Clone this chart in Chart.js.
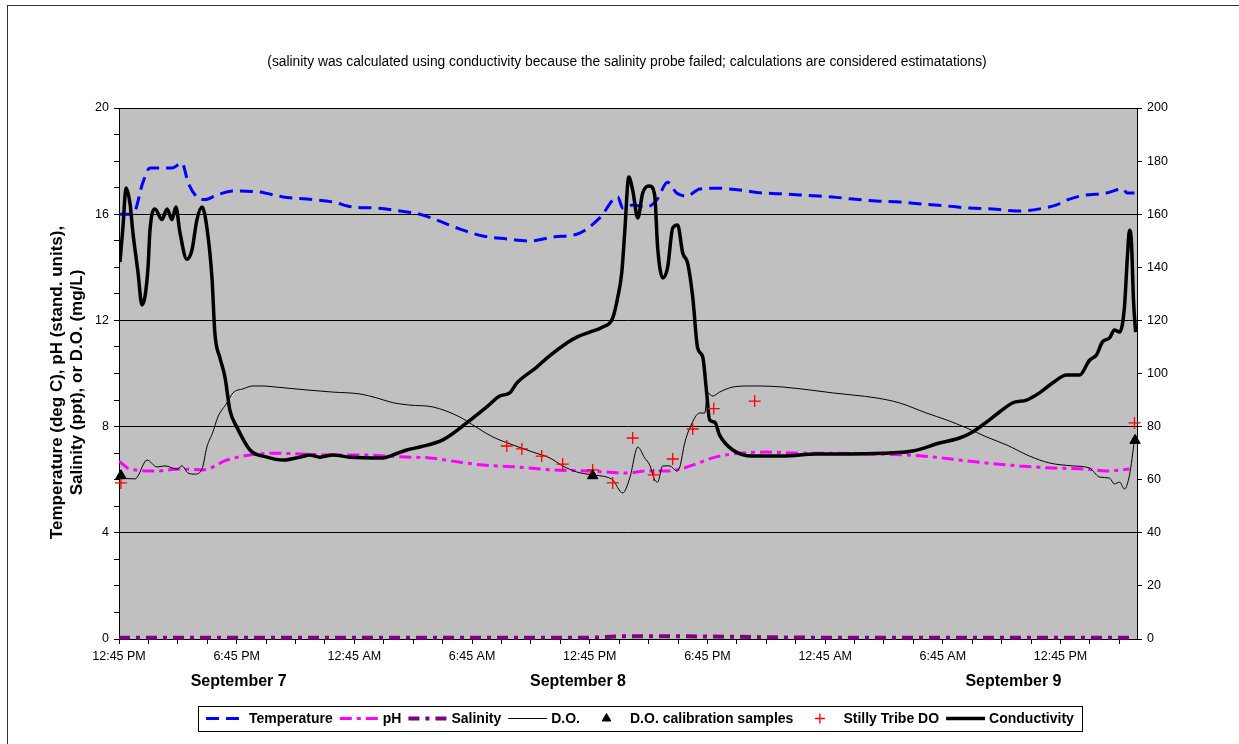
<!DOCTYPE html>
<html>
<head>
<meta charset="utf-8">
<title>Water quality - September 7 to 9</title>
<script src="https://cdn.jsdelivr.net/npm/chart.js@4.4.1/dist/chart.umd.min.js"></script>
<style>
  html, body { margin: 0; padding: 0; background: #fff; }
  #wrap { width: 1239px; height: 744px; position: relative; }
</style>
</head>
<body>
<div id="wrap"><canvas id="waterChart"></canvas></div>
<script>
const FONT = 'Arial, "Liberation Sans", sans-serif';

// x axis is hours after 12:45 PM, September 7
const timeLabels = ['12:45 PM', '6:45 PM', '12:45 AM', '6:45 AM', '12:45 PM', '6:45 PM', '12:45 AM', '6:45 AM', '12:45 PM'];
const dayLabels = ['September 7', 'September 8', 'September 9'];
const dayHours = [6.1, 23.4, 45.6];
const subtitle = '(salinity was calculated using conductivity because the salinity probe failed; calculations are considered estimatations)';
const yTitle = ['Temperature (deg C), pH (stand. units),', 'Salinity (ppt), or D.O. (mg/L)'];

const tempHours = [0, 0.71, 1.22, 1.58, 2.70, 3.21, 3.52, 3.97, 4.38, 4.99, 5.81, 7.03, 8.36, 9.58, 10.90, 11.92, 13.15, 14.32, 15.34, 16.20, 17.38, 18.55, 19.77, 20.94, 22.11, 23.49, 24.51, 25.43, 25.68, 26.19, 26.90, 27.41, 27.97, 28.43, 28.94, 29.61, 30.47, 31.64, 32.82, 34.04, 35.21, 36.38, 37.40, 38.62, 39.80, 40.97, 42.19, 43.36, 44.54, 45.76, 46.93, 47.80, 48.31, 49.12, 50.34, 51.16, 51.41, 51.77];
const tempValues = [16.0, 16.0, 17.2, 17.74, 17.74, 17.93, 17.2, 16.65, 16.55, 16.72, 16.87, 16.85, 16.65, 16.57, 16.46, 16.27, 16.23, 16.12, 16.0, 15.78, 15.44, 15.18, 15.07, 14.99, 15.14, 15.29, 15.86, 16.65, 16.23, 16.35, 16.27, 16.53, 17.2, 16.8, 16.68, 16.95, 16.98, 16.91, 16.8, 16.76, 16.7, 16.65, 16.57, 16.5, 16.46, 16.38, 16.31, 16.23, 16.2, 16.12, 16.2, 16.35, 16.53, 16.7, 16.8, 16.95, 16.8, 16.8];

const phHours = [0, 0.56, 1.94, 3.11, 4.28, 5.50, 6.68, 7.85, 9.22, 10.90, 12.64, 14.32, 15.85, 17.02, 18.55, 20.28, 22.11, 23.85, 24.87, 25.89, 26.90, 27.92, 28.59, 29.25, 30.27, 31.29, 33.02, 34.70, 36.38, 38.11, 40.15, 41.48, 42.85, 44.23, 45.91, 47.59, 49.32, 50.34, 51.52];
const phValues = [6.7, 6.4, 6.33, 6.4, 6.37, 6.74, 6.93, 7.0, 6.97, 6.93, 6.93, 6.86, 6.82, 6.7, 6.55, 6.48, 6.37, 6.33, 6.29, 6.25, 6.33, 6.33, 6.4, 6.55, 6.82, 6.97, 7.04, 7.0, 7.0, 6.97, 6.93, 6.86, 6.74, 6.63, 6.52, 6.44, 6.4, 6.33, 6.4];

const salHours = [0, 12, 24, 25.5, 28.5, 36, 51.8];
const salValues = [0.05, 0.05, 0.05, 0.1, 0.1, 0.05, 0.05];

const doHours = [0, 0.82, 1.43, 1.94, 2.34, 2.96, 3.21, 3.52, 3.87, 4.23, 4.48, 4.79, 5.04, 5.50, 5.81, 6.32, 6.83, 7.34, 7.85, 8.56, 9.58, 10.90, 12.28, 13.15, 13.96, 14.83, 16.00, 17.38, 18.04, 19.06, 20.08, 21.10, 21.96, 22.62, 23.34, 24.15, 24.87, 25.17, 25.68, 26.04, 26.45, 26.80, 27.06, 27.31, 27.46, 27.72, 28.08, 28.43, 28.59, 28.84, 29.10, 29.61, 29.86, 30.01, 30.27, 30.62, 31.29, 32.15, 32.66, 33.83, 35.21, 36.38, 37.40, 38.62, 39.80, 41.17, 42.19, 43.21, 44.23, 45.25, 46.42, 47.44, 48.61, 49.48, 49.99, 50.50, 50.75, 51.01, 51.26, 51.52, 51.77];
const doValues = [6.06, 6.03, 6.74, 6.48, 6.52, 6.4, 6.52, 6.25, 6.21, 6.4, 7.23, 7.8, 8.36, 8.89, 9.27, 9.42, 9.53, 9.53, 9.5, 9.45, 9.38, 9.3, 9.23, 9.08, 8.9, 8.81, 8.74, 8.36, 8.06, 7.61, 7.31, 7.04, 6.82, 6.52, 6.29, 6.18, 6.1, 5.99, 5.5, 6.06, 7.23, 6.82, 6.55, 5.99, 5.91, 6.52, 6.52, 6.33, 6.48, 7.38, 7.95, 8.51, 8.51, 9.27, 9.15, 9.3, 9.49, 9.53, 9.53, 9.49, 9.38, 9.27, 9.19, 9.08, 8.89, 8.51, 8.25, 7.95, 7.61, 7.31, 6.89, 6.63, 6.52, 6.44, 6.1, 6.06, 5.84, 5.91, 5.65, 6.18, 7.5];

const calHours = [0.1, 24.15, 51.8];
const calValues = [6.15, 6.15, 7.48];

const stillyHours = [0.1, 19.77, 20.54, 21.55, 22.62, 24.15, 25.17, 26.19, 27.26, 28.23, 29.25, 30.32, 32.41, 51.77];
const stillyValues = [5.88, 7.27, 7.16, 6.89, 6.59, 6.37, 5.88, 7.57, 6.18, 6.78, 7.91, 8.68, 8.96, 8.14];

const condHours = [0.05, 0.20, 0.36, 0.56, 0.71, 0.97, 1.17, 1.32, 1.48, 1.58, 1.83, 2.19, 2.45, 2.70, 2.90, 3.11, 3.46, 3.72, 3.97, 4.23, 4.48, 4.74, 4.89, 5.15, 5.40, 5.66, 6.01, 6.68, 7.54, 8.36, 9.22, 9.73, 10.24, 10.90, 11.77, 13.45, 13.96, 14.68, 15.34, 16.51, 17.73, 18.75, 19.41, 19.92, 20.28, 21.30, 21.81, 22.83, 23.34, 24.00, 24.66, 25.17, 25.43, 25.63, 25.78, 25.99, 26.19, 26.45, 26.70, 27.06, 27.31, 27.46, 27.72, 27.97, 28.23, 28.48, 28.74, 28.99, 29.25, 29.50, 29.76, 29.96, 30.11, 30.37, 30.62, 31.29, 32.31, 33.83, 35.57, 37.25, 38.93, 40.46, 41.83, 42.85, 43.52, 44.23, 44.89, 45.55, 46.27, 46.93, 47.59, 48.31, 48.97, 49.48, 49.83, 50.14, 50.50, 50.75, 51.01, 51.26, 51.41, 51.52, 51.62, 51.72, 51.83];
const condValues = [142, 155, 169.9, 164, 153, 138, 125.8, 128.8, 140, 154, 162, 158, 162, 158, 162.7, 153, 143, 146.5, 157.8, 162.7, 155, 136, 115, 105.8, 98.7, 86, 79.8, 71.2, 68.5, 67.4, 68.5, 69.3, 68.5, 69.3, 68.5, 68.2, 69.3, 71.2, 72.3, 75, 81.4, 87.4, 91.5, 92.7, 96.4, 102.4, 105.8, 111.5, 113.7, 115.6, 117.5, 120.9, 128.8, 137.9, 152.9, 174, 169, 158.6, 168, 170.6, 167.2, 147.6, 136, 140, 154.8, 155.9, 145.4, 141.6, 128.8, 109.6, 106.2, 92.7, 82.5, 81.7, 76.8, 71.2, 68.9, 68.9, 69.7, 69.7, 70, 70.8, 73.8, 75.7, 78, 81.7, 85.5, 88.9, 90, 92.7, 96.4, 99.4, 99.4, 105, 107, 111.9, 113.4, 116.4, 115.6, 125, 143.9, 154, 149, 127.7, 115.6];

const pairs = (xs, ys) => xs.map((x, i) => ({ x: x, y: ys[i] }));

const lineBase = { pointRadius: 0, fill: false, cubicInterpolationMode: 'monotone' };

// gray plot, frames, and the texts Excel put around the chart
const decorations = {
  id: 'decorations',
  beforeDraw(chart) {
    const { ctx, chartArea: a } = chart;
    ctx.save();
    ctx.fillStyle = '#fff';
    ctx.fillRect(0, 0, chart.width, chart.height);
    ctx.strokeStyle = '#333';
    ctx.lineWidth = 1;
    ctx.strokeRect(7.5, 5.5, chart.width + 20, chart.height + 20);
    ctx.fillStyle = '#C0C0C0';
    ctx.fillRect(a.left, a.top, a.right - a.left, a.bottom - a.top);
    ctx.restore();
  },
  beforeDatasetsDraw(chart) {
    const { ctx, chartArea: a } = chart;
    ctx.save();
    ctx.strokeStyle = '#000';
    ctx.lineWidth = 1;
    ctx.beginPath();
    ctx.moveTo(a.left, a.top + 0.5);
    ctx.lineTo(a.right, a.top + 0.5);
    ctx.stroke();
    ctx.restore();
  },
  afterDraw(chart) {
    const { ctx, chartArea: a } = chart;
    const xs = chart.scales.x;
    ctx.save();
    ctx.fillStyle = '#000';
    ctx.textAlign = 'center';
    ctx.textBaseline = 'middle';

    ctx.font = '13.8px ' + FONT;
    ctx.fillText(subtitle, (a.left + a.right) / 2 - 1, a.top - 46);

    ctx.font = 'bold 16px ' + FONT;
    dayLabels.forEach((d, i) => ctx.fillText(d, xs.getPixelForValue(dayHours[i]), a.bottom + 43));

    ctx.save();
    ctx.font = 'bold 17px ' + FONT;
    ctx.translate(57, (a.top + a.bottom) / 2 + 9);
    ctx.rotate(-Math.PI / 2);
    yTitle.forEach((line, i) => ctx.fillText(line, 0, i * 20));
    ctx.restore();

    // legend
    const order = [0, 1, 2, 3, 4, 5, 6];
    const sample = 39, gapText = 4, gapItem = 7, pad = 8;
    ctx.font = 'bold 14px ' + FONT;
    const items = order.map(i => {
      const ds = chart.data.datasets[i];
      return { ds: ds, w: ctx.measureText(ds.label).width };
    });
    let total = pad * 2 + gapItem * (items.length - 1);
    items.forEach(it => { total += sample + gapText + it.w; });
    const boxLeft = Math.round(640 - total / 2);
    const boxTop = a.bottom + 67;
    const cy = boxTop + 12.5;
    ctx.strokeStyle = '#000';
    ctx.lineWidth = 1;
    ctx.strokeRect(boxLeft + 0.5, boxTop + 0.5, Math.round(total), 25);
    let x = boxLeft + pad;
    items.forEach(it => {
      const ds = it.ds;
      ctx.save();
      if (ds.showLine === false) {
        ctx.setLineDash([]);
        ctx.fillStyle = ds.backgroundColor || ds.borderColor;
        ctx.strokeStyle = ds.borderColor;
        ctx.lineWidth = ds.borderWidth;
        Chart.helpers.drawPoint(ctx, { pointStyle: ds.pointStyle, radius: ds.pointRadius - 1, borderWidth: ds.borderWidth, rotation: 0 }, x + sample / 2, cy);
      } else {
        ctx.setLineDash(ds.borderDash || []);
        ctx.strokeStyle = ds.borderColor;
        ctx.lineWidth = ds.borderWidth;
        ctx.beginPath();
        ctx.moveTo(x, cy);
        ctx.lineTo(x + sample, cy);
        ctx.stroke();
      }
      ctx.restore();
      ctx.fillStyle = '#000';
      ctx.textAlign = 'left';
      ctx.fillText(ds.label, x + sample + gapText, cy + 1);
      x += sample + gapText + it.w + gapItem;
    });
    ctx.restore();
  }
};

new Chart(document.getElementById('waterChart'), {
  type: 'line',
  data: {
    datasets: [
      Object.assign({}, lineBase, { label: 'Temperature', data: pairs(tempHours, tempValues), borderColor: '#0000FF', borderWidth: 3, borderDash: [13, 7], yAxisID: 'y', order: 6 }),
      Object.assign({}, lineBase, { label: 'pH', data: pairs(phHours, phValues), borderColor: '#FF00FF', borderWidth: 3, borderDash: [12, 5, 4, 5], yAxisID: 'y', order: 5 }),
      Object.assign({}, lineBase, { label: 'Salinity', data: pairs(salHours, salValues), borderColor: '#800080', borderWidth: 4, borderDash: [11, 6, 4, 6], yAxisID: 'y', clip: false, order: 4 }),
      Object.assign({}, lineBase, { label: 'D.O.', data: pairs(doHours, doValues), borderColor: '#000', borderWidth: 1, yAxisID: 'y', order: 3 }),
      { label: 'D.O. calibration samples', data: pairs(calHours, calValues), showLine: false, pointStyle: 'triangle', pointRadius: 6, backgroundColor: '#000', borderColor: '#000', borderWidth: 1, yAxisID: 'y', clip: false, order: 0 },
      { label: 'Stilly Tribe DO', data: pairs(stillyHours, stillyValues), showLine: false, pointStyle: 'cross', pointRadius: 6, borderColor: '#FF0000', backgroundColor: '#FF0000', borderWidth: 1.3, yAxisID: 'y', clip: false, order: 1 },
      Object.assign({}, lineBase, { label: 'Conductivity', data: pairs(condHours, condValues), borderColor: '#000', borderWidth: 3.5, yAxisID: 'y2', order: 2 })
    ]
  },
  options: {
    responsive: true,
    maintainAspectRatio: false,
    animation: false,
    layout: { padding: { top: 108, left: 0, right: 0, bottom: 45 } },
    plugins: {
      legend: { display: false },
      title: { display: false },
      tooltip: { enabled: false }
    },
    scales: {
      x: {
        type: 'linear',
        min: 0,
        max: 51.9,
        afterBuildTicks(scale) {
          const t = [];
          for (let h = 0; h <= 51.9; h += 1.5) t.push({ value: h });
          scale.ticks = t;
        },
        afterFit(scale) { scale.height = 60; },
        ticks: {
          autoSkip: false,
          maxRotation: 0,
          padding: 5,
          color: '#000',
          font: { family: FONT, size: 12.5 },
          callback: (v) => (v % 6 === 0 ? timeLabels[v / 6] : '')
        },
        grid: { drawOnChartArea: false, tickLength: 5, color: '#000' },
        border: { color: '#000', width: 1 }
      },
      y: {
        position: 'left',
        min: 0,
        max: 20,
        afterFit(scale) { scale.width = 119; },
        ticks: {
          stepSize: 1,
          padding: 5,
          color: '#000',
          font: { family: FONT, size: 12.5 },
          callback: (v) => (v % 4 === 0 ? v : '')
        },
        grid: {
          tickLength: 5,
          tickColor: '#000',
          color: (c) => (c.tick && c.tick.value % 4 === 0 ? '#000' : 'rgba(0,0,0,0)')
        },
        border: { color: '#000', width: 1 }
      },
      y2: {
        position: 'right',
        min: 0,
        max: 200,
        afterFit(scale) { scale.width = 102; },
        ticks: {
          stepSize: 20,
          padding: 5,
          color: '#000',
          font: { family: FONT, size: 12.5 }
        },
        grid: { drawOnChartArea: false, tickLength: 5, color: '#000' },
        border: { color: '#000', width: 1 }
      }
    }
  },
  plugins: [decorations]
});
</script>
</body>
</html>
